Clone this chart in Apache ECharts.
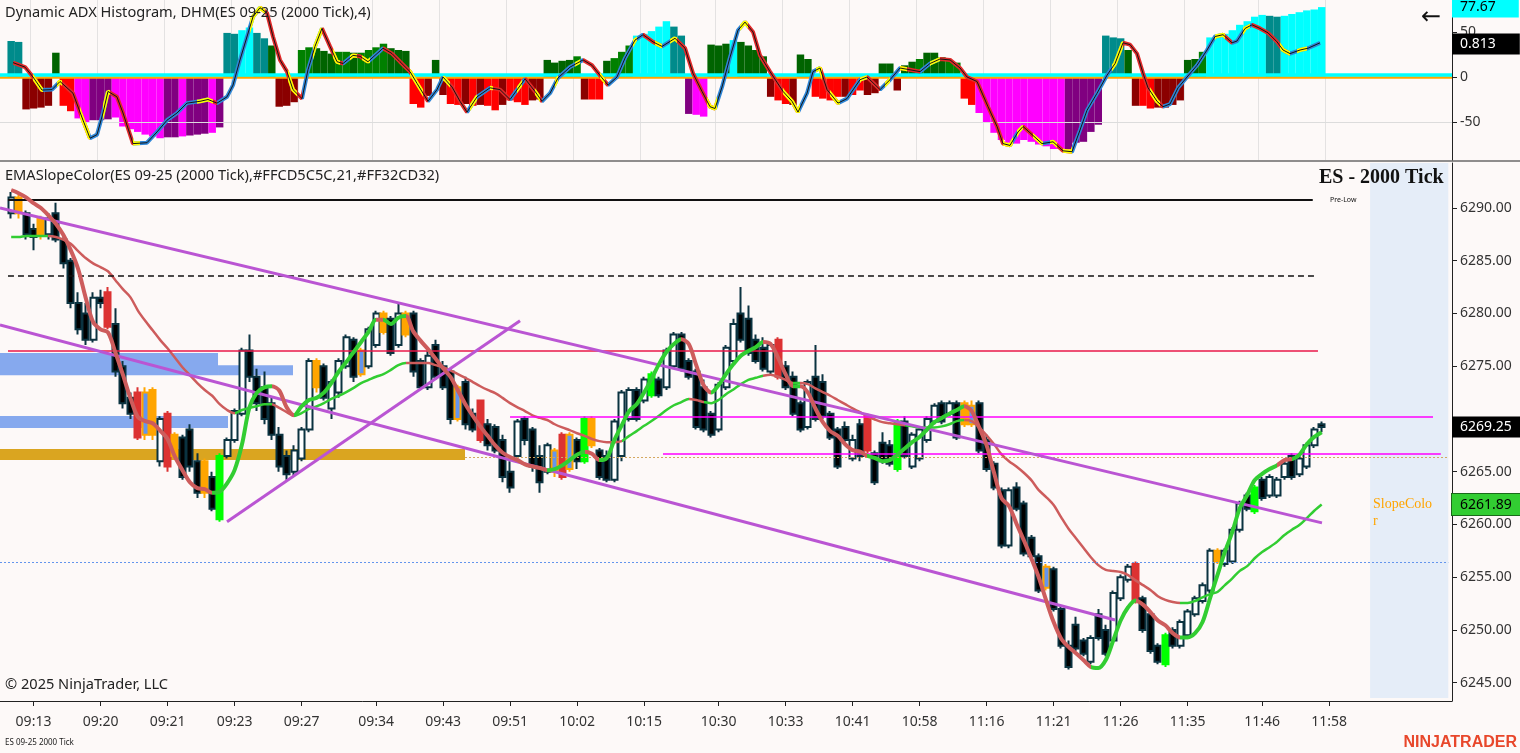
<!DOCTYPE html>
<html><head><meta charset="utf-8">
<script src="https://cdn.jsdelivr.net/npm/echarts/dist/echarts.min.js"></script>
<style>html,body{margin:0;padding:0;background:#fdf9f8;}#c{width:1520px;height:753px;}</style>
</head><body><div id="c"></div>
<script>
// ---------- data ----------
const timeLabels = ['09:13','09:20','09:21','09:23','09:27','09:34','09:43','09:51','10:02','10:15','10:30','10:33','10:41','10:58','11:16','11:21','11:26','11:35','11:46','11:58'];
const tickBars = [3,12,21,30,39,49,58,67,76,85,95,104,113,122,131,140,149,158,168,177];
const hiddenPriceLabels = [6270]; // covered by the last-price tag

const candleOpen = [6289.5,6291,6289.5,6288,6287.5,6287.5,6289.5,6287,6285,6281,6280,6277.5,6281.5,6282,6279,6275,6272,6272.5,6272.5,6268.5,6266,6270.5,6266.5,6268.25,6269,6266,6263,6264.5,6260.5,6266.5,6268,6270.5,6276.5,6274,6273,6271.5,6268.5,6266.5,6265,6266.25,6269,6275.5,6275,6271,6272.5,6275,6277.5,6274.25,6275,6277,6280,6279.5,6277,6280,6280,6275.5,6273,6277,6275,6274.5,6270,6273.5,6270.5,6271.75,6269.5,6269.25,6268,6265,6266.5,6270,6269,6266.5,6265,6267,6268.5,6265.25,6268,6266,6270,6267,6266.5,6264.25,6266.5,6270,6272.75,6271.75,6272.25,6273.75,6273,6275,6278,6275.5,6274.5,6273,6270.5,6269,6273,6275.5,6280,6279.5,6277.5,6276.75,6274.5,6277.5,6275,6274,6271.5,6269.25,6274,6273.5,6270.5,6269,6269.25,6266.25,6269.5,6270.25,6266.75,6267.75,6267.5,6265.25,6269.75,6265.5,6266.25,6268,6269.75,6271.5,6270.5,6271.5,6269.5,6271.25,6271.5,6268,6265.75,6263.25,6258,6263.5,6262,6258.75,6257,6254,6255.75,6252,6248.5,6250.5,6249,6247,6251.5,6250,6249,6253,6254.75,6256.25,6253,6251.5,6248.5,6246.75,6250,6248.5,6249.5,6251.5,6252.75,6253.75,6257.5,6256.25,6256.5,6259.5,6262.75,6261.25,6264.25,6262.75,6262.75,6264.5,6266.5,6264.75,6265.5,6267.5,6269.5];
const candleClose = [6291,6289.5,6287.5,6287.25,6289,6289,6287,6284.75,6281,6278.5,6277.5,6281.5,6281,6278.75,6274.5,6271.5,6270.5,6268.25,6268.5,6272.75,6270,6265.5,6268.5,6264.5,6265.5,6263,6266,6261.5,6266.5,6268,6270.75,6276.5,6274,6271.5,6270,6268.5,6265.5,6264.75,6267,6269,6275.5,6273,6272,6273.5,6275.5,6277.75,6274,6276.5,6278.5,6280,6278.25,6276.25,6280,6278,6274.5,6273,6276,6274,6273,6270,6273,6269.5,6269,6268,6267.5,6267,6264.5,6263.5,6269.75,6268,6265.5,6264,6267.5,6265,6264.5,6268.5,6266,6270,6267.5,6264.5,6264.25,6269.75,6272.5,6272.75,6270,6273.75,6274.25,6272.25,6276.5,6278,6274.75,6274,6269.25,6269,6268.5,6273.25,6276.75,6279,6277.5,6276.25,6275.5,6274.75,6277,6274,6273,6270.5,6269,6273.5,6270,6270.25,6268.25,6265.5,6268,6268,6266.5,6267,6264,6266,6265.75,6269.75,6266.5,6268.5,6269,6270,6271.25,6269.75,6271.5,6268.25,6271.5,6269.5,6267,6265.25,6263.5,6258,6263.25,6261.5,6257.25,6257,6253.75,6256,6252,6248.5,6246.5,6248.25,6247.75,6249.25,6249.25,6247.75,6253.5,6255,6256,6252.75,6250,6248,6247,6249.5,6248.5,6250.75,6251.75,6253,6254.25,6257.5,6256.5,6257.5,6259.5,6262,6261.5,6263.5,6262.5,6264.5,6264.25,6265.75,6264.5,6266.25,6267.5,6269,6269.25];
const candleLow = [6289,6289,6287,6286,6287,6287,6286.75,6284.25,6280.5,6278,6277,6277.25,6280.5,6278.5,6274,6271,6270,6268,6268,6268,6265.5,6265,6266.25,6264.25,6265,6262.5,6262.5,6261.25,6260.25,6266.25,6267.75,6270.25,6273.5,6270.75,6269.5,6268,6265,6264.25,6264.5,6266,6268.75,6272.5,6271.75,6270,6272,6274.75,6273.5,6274,6274.75,6276.75,6278,6276,6276.75,6277.75,6274,6272.75,6272.75,6273.75,6272.75,6269.5,6269.75,6269,6268.75,6267.75,6267,6266.75,6264,6263,6266.25,6267.5,6265,6263,6264.75,6264.5,6264.25,6265,6265.25,6265.75,6267.25,6264.25,6264,6264,6266,6269.75,6269.75,6271.5,6272,6272,6272.75,6274.75,6274.5,6273.75,6269,6268.75,6268.25,6268.75,6272.75,6275.25,6277.25,6276,6275.25,6274.5,6274.25,6273.75,6272.75,6270.25,6268.75,6269,6269.75,6270,6268,6265.25,6267.75,6266,6266,6266.75,6263.75,6265.75,6265.5,6265,6266.25,6265.25,6266,6267.75,6269.5,6269.5,6270.25,6268,6269.25,6269.25,6266.75,6265,6263.25,6257.75,6257.75,6261.25,6257,6256.75,6253.5,6253.75,6251.75,6248.25,6246.25,6248,6247.5,6246.75,6249,6247.5,6248.75,6252.75,6254.5,6252.5,6249.75,6247.75,6246.75,6246.5,6248.25,6248.25,6249.25,6251.25,6252.5,6253.5,6256.25,6256,6256.25,6259.25,6261.25,6261,6262.25,6262.5,6262.5,6264.25,6264.25,6264.5,6265.25,6267.25,6268.75];
const candleHigh = [6291.5,6291.25,6289.75,6288.5,6289.25,6289.5,6290.5,6287.5,6285.25,6282,6281,6282,6282.25,6282.5,6280.5,6275.5,6272.5,6273,6273,6273,6270.25,6270.75,6268.75,6268.5,6269.5,6266.75,6266.25,6265,6266.75,6268.25,6271,6276.75,6278,6274.75,6274.5,6272,6269.25,6267,6267.5,6269.25,6275.75,6275.75,6275.25,6273.75,6275.75,6278,6277.75,6276.75,6278.75,6280.25,6280.25,6279.75,6281,6280.25,6280.25,6275.75,6276.5,6277.5,6275.5,6274.75,6273.25,6274,6271,6271.75,6270,6269.5,6268.5,6266,6270,6270.25,6269.25,6267.5,6267.75,6267.25,6268.75,6268.75,6268.25,6270.25,6270.25,6267.25,6267,6270,6272.75,6273,6273,6274,6274.5,6274,6276.75,6278.25,6278.25,6275.75,6274.75,6273.75,6270.75,6273.5,6277,6279.5,6282.5,6280.75,6278,6277.75,6277.25,6277.75,6275.5,6274.5,6271.75,6273.75,6277,6274.25,6270.75,6269.25,6269.75,6268.5,6270,6270.5,6267,6268.75,6268,6270,6270.25,6268.75,6269.25,6270.25,6271.5,6271.75,6271.75,6271.75,6271.75,6271.75,6271.75,6268.5,6266,6263.5,6263.5,6264,6262.25,6259,6257.25,6256.25,6256,6252.25,6249,6251.25,6249.25,6249.5,6252,6250.5,6253.75,6255.25,6256.25,6256.5,6253.25,6251.75,6248.75,6249.75,6250.25,6251,6252,6253.25,6254.5,6257.75,6257.75,6257.75,6259.75,6262.25,6263,6263.75,6264.5,6264.75,6264.5,6266,6266.75,6266.5,6267.75,6269.25,6269.75];
// coloured candles: [bar, code]  O orange, R red, G green, B blue body in orange
const candleMarks = [[1,'O'],[4,'O'],[13,'R'],[17,'R'],[18,'B'],[19,'O'],[21,'R'],[22,'O'],[26,'O'],[28,'G'],[41,'O'],[47,'B'],[50,'O'],[53,'O'],[60,'B'],[63,'R'],[73,'B'],[74,'R'],[75,'B'],[77,'G'],[78,'O'],[86,'G'],[103,'R'],[115,'R'],[119,'G'],[128,'O'],[129,'B'],[139,'B'],[151,'R'],[155,'G'],[162,'O'],[167,'G']];

const emaFast = [6291.7,6291.4,6291.0,6290.45,6290.0,6289.3,6288.5,6287.45,6286.0,6284.2,
6281.5,6279.2,6278.5,6278.2,6276.3,6274.2,6272.0,6270.2,6269.8,6269.6,
6268.9,6268.1,6266.4,6265.15,6264.0,6263.45,6263.35,6263.0,6263.1,6263.9,
6265.15,6267.6,6271.1,6272.5,6273.0,6273.1,6272.7,6271.1,6270.35,6271.2,
6271.8,6272.0,6272.5,6273.4,6274.5,6275.4,6276.35,6277.3,6278.25,6279.4,
6279.4,6279.0,6279.6,6279.75,6278.3,6277.4,6276.6,6275.7,6274.8,6274.0,
6272.7,6271.4,6270.3,6269.3,6268.4,6267.5,6266.8,6266.4,6266.1,6265.7,
6265.5,6265.35,6265.15,6265.25,6265.6,6266.1,6266.6,6266.9,6266.7,6266.1,
6266.3,6268.0,6269.4,6270.75,6271.4,6272.5,6273.8,6275.2,6276.35,6277.1,
6277.55,6277.1,6275.1,6273.2,6272.5,6273.2,6274.25,6275.2,6276.0,6276.45,
6276.8,6277.3,6277.1,6275.8,6274.25,6273.1,6273.1,6272.5,6271.0,6269.7,
6268.85,6268.4,6267.6,6267.05,6266.9,6266.5,6266.3,6266.0,6266.1,6266.6,
6267.2,6267.8,6268.3,6269.0,6269.7,6270.1,6270.5,6270.85,6271.2,6270.75,
6269.2,6267.5,6264.9,6262.5,6261.75,6260.1,6258.5,6256.8,6255.0,6252.8,
6250.75,6249.2,6248.4,6247.8,6247.15,6246.5,6246.4,6247.15,6249.0,6250.9,
6252.15,6252.8,6252.4,6251.7,6250.9,6250.45,6249.7,6249.3,6249.3,6249.7,
6250.75,6253.0,6255.2,6257.4,6259.3,6261.55,6262.8,6264.2,6264.8,6265.25,
6265.6,6266.1,6266.2,6266.6,6267.6,6268.3,6268.75];
const emaSlow = [6287.25,6287.25,6287.35,6287.35,6287.35,6287.35,6287.25,6287.0,6286.6,6285.9,
6285.25,6284.75,6284.4,6284.0,6283.15,6282.3,6281.55,6280.3,6279.3,6278.4,
6277.5,6276.7,6275.8,6274.9,6274.15,6273.4,6272.75,6272.2,6271.4,6270.85,
6270.55,6270.85,6271.05,6271.2,6271.4,6271.4,6271.05,6270.65,6270.3,6270.55,
6270.95,6271.2,6271.5,6271.9,6272.2,6272.55,6272.95,6273.4,6273.7,6274.0,
6274.25,6274.65,6275.1,6275.3,6275.3,6275.3,6275.3,6275.1,6274.9,6274.6,
6274.25,6273.9,6273.5,6273.1,6272.75,6272.45,6272.0,6271.5,6271.1,6270.75,
6270.35,6270.1,6269.9,6269.5,6269.2,6268.95,6268.65,6268.4,6268.1,6267.9,
6267.8,6267.8,6267.9,6268.4,6268.85,6269.35,6269.8,6270.3,6270.85,6271.3,
6271.6,6271.9,6271.8,6271.6,6271.5,6271.8,6272.35,6272.8,6273.3,6273.7,
6273.9,6274.1,6274.2,6274.0,6273.7,6273.4,6273.4,6273.3,6272.9,6272.55,
6272.2,6271.8,6271.4,6271.0,6270.65,6270.25,6269.95,6269.7,6269.6,6269.5,
6269.4,6269.3,6269.2,6269.2,6269.2,6269.3,6269.5,6269.8,6269.9,6269.8,
6269.2,6268.45,6267.6,6266.65,6266.0,6265.5,6264.9,6264.2,6263.25,6262.6,
6261.85,6260.7,6259.6,6258.7,6257.8,6256.9,6256.15,6255.7,6255.6,6255.5,
6255.2,6254.7,6254.25,6253.8,6253.2,6252.85,6252.65,6252.55,6252.55,6252.75,
6253.1,6253.4,6253.6,6254.25,6254.9,6255.6,6256.05,6256.8,6257.4,6257.85,
6258.35,6259.0,6259.5,6259.95,6260.6,6261.3,6261.89];
// slope colour runs [fromBar, toBar, 'R'|'G']
const fastSlopeRuns = [[0,27,'R'],[27,35,'G'],[35,38,'R'],[38,49,'G'],[49,50,'R'],[50,53,'G'],[53,72,'R'],[72,77,'G'],[77,79,'R'],[79,90,'G'],[90,94,'R'],[94,101,'G'],[101,105,'R'],[105,106,'G'],[106,115,'R'],[115,128,'G'],[128,145,'R'],[145,151,'G'],[151,157,'R'],[157,170,'G'],[170,172,'R'],[172,176,'G']];
const slowSlopeRuns = [[0,5,'G'],[5,30,'R'],[30,35,'G'],[35,38,'R'],[38,53,'G'],[53,82,'R'],[82,91,'G'],[91,93,'R'],[93,101,'G'],[101,105,'R'],[105,106,'G'],[106,120,'R'],[120,128,'G'],[128,157,'R'],[157,176,'G']];

const adxValues = [40,39,-36,-35,-34,-32,27,-32,-38,-46,-51,-48,-48,-47,-45,-55,-58,-61,-64,-66,-68,-67,-67,-66,-65,-64,-63,-62,-56,49,48,52,55,49,43,35,-33,-32,-28,30,33,32,29,26,28,28,27,27,30,33,37,32,30,29,-30,-34,-21,19,-20,-30,-31,-30,-32,-31,-32,-37,-31,-26,-28,-31,-26,-25,19,16,18,19,23,-25,-25,-25,18,21,28,35,46,48,51,56,62,56,46,-41,-42,-44,36,35,37,41,39,35,30,23,-22,-26,-30,-31,25,20,-22,-24,-26,-22,-22,-20,-15,-20,-18,15,15,-15,13,17,20,27,27,22,18,16,-24,-31,-40,-51,-62,-70,-73,-74,-70,-72,-75,-77,-80,-80,-80,-73,-72,-61,-53,46,44,43,30,-32,-32,-35,-34,-34,-31,-26,19,20,28,44,46,48,52,58,62,67,69,68,67,68,70,72,74,75,77.67];
const adxColors = ['T','T','DR','DR','DR','DR','DG','R','R','M','M','P','P','P','M','M','M','M','M','M','M','P','P','M','P','P','P','M','P','T','T','C','C','T','T','DG','DR','DR','DR','G','G','DG','DG','DG','G','G','DG','G','G','G','G','DG','DG','DG','R','R','DR','DG','DR','R','R','DR','R','DR','R','R','DR','R','R','R','DR','DR','DG','DG','DG','DG','G','DR','R','R','DG','G','G','G','C','C','C','C','C','T','T','P','M','M','DG','DG','DG','C','DG','DG','DG','DG','DR','R','R','DR','DG','DG','R','R','R','R','DR','R','R','DR','DR','DG','DG','DR','DG','DG','G','DG','DG','DG','G','G','R','R','M','M','M','M','M','M','M','M','M','M','M','M','P','P','P','P','P','T','T','T','DG','DR','R','R','DR','DR','DR','DR','DG','DG','G','C','C','C','C','C','C','C','C','T','T','C','C','C','C','C','C'];
// ADX signal line: [bar position, value]
const adxLine = [[0.25,16],[1.86,11],[2.93,0],[4.14,-14.5],[5.48,-14],[6.56,-5],[8.3,-18],[9.65,-48],[10.59,-68],[11.53,-64],
[12.33,-40],[13,-16],[14.2,-22],[15.02,-40],[16.36,-74],[18.24,-73],[19.59,-61],[20.93,-48],[22.27,-40],[23.61,-29],
[25.36,-27],[26.43,-25],[27.64,-29],[28.99,-22],[29.79,-9],[30.73,19],[32.48,67],[33.42,77],[34.36,71],[35.16,45],
[36.1,19],[37.04,6],[37.85,-14],[39.06,-24],[39.86,8],[40.8,34],[41.74,54],[42.82,34],[43.76,17],[44.57,15],
[45.91,24],[46.85,23],[47.92,17],[48.86,24],[49.94,32],[51.15,26],[52.22,17],[53.56,6],[54.5,-7],[55.98,-27],
[57.19,-14],[57.99,0],[59.2,-11],[60.28,-27],[61.22,-39],[62.56,-22],[64.31,-12],[65.65,-14],[67,-25],[69.01,-2],
[70.35,-16],[71.29,-27],[72.37,-18],[73.44,-1],[75.05,11],[76.8,19],[78.01,13],[79.35,-1],[80.16,-9],[81.36,0],
[82.44,21],[83.78,41],[84.86,47],[86.2,39],[87.41,34],[89.15,43],[90.5,32],[91.57,4],[92.78,-16],[93.85,-33],
[94.53,-35],[95.47,-11],[96.54,22],[97.61,52],[98.55,61],[99.63,50],[100.57,24],[101.91,6],[103.66,-16],[104.87,-27],
[105.67,-39],[106.88,-18],[107.69,6],[108.63,10],[109.57,-14],[111.04,-29],[112.25,-24],[114,-3],[114.94,0],[116.69,-14],
[118.03,-3],[119.37,10],[120.72,8],[122.06,6],[123.4,15],[124.74,20],[126.09,19],[127.43,10],[128.37,0],[129.71,-5],
[131.19,-33],[132.4,-55],[133.2,-74],[134.14,-76],[135.22,-61],[135.89,-55],[137.1,-64],[138.44,-74],[139.92,-72],[141.26,-82],
[142.47,-83],[143.54,-59],[144.48,-37],[145.83,-18],[147.17,2],[148.25,15],[149.32,38],[150.26,36],[151.2,26],[152.01,4],
[152.68,-12],[153.89,-27],[154.69,-33],[155.63,-30],[156.71,-12],[157.92,0],[159.26,13],[160.6,30],[161.68,45],[162.75,47],
[163.96,38],[164.63,40],[165.71,54],[166.65,58],[167.72,54],[168.8,49],[170.01,39],[170.81,30],[171.75,26],[173.09,30],
[174.17,32],[175.78,38]];
const adxYellowRuns = [[2.93,4.27],[6.15,6.83],[9.24,10.59],[12.33,13.27],[16.36,17.3],[24.96,27.1],[32.08,34.09],[37.18,38.39],[40.54,41.74],[43.22,44.16],[45.51,46.45],[47.12,48.19],[53.56,55.31],[58,58.94],[61.62,62.56],[64.31,64.71],[67.93,68.61],[70.35,71.02],[73.04,73.44],[75.72,76.39],[79.08,79.75],[83.51,84.05],[86.47,87.41],[88.48,89.42],[93.45,94.79],[97.88,98.96],[103.66,105.94],[108.09,108.9],[109.97,111.31],[114,114.94],[117.36,118.03],[119.37,120.31],[123.4,124.74],[133.2,134.55],[135.08,135.89],[137.23,138.58],[139.52,140.46],[141.26,142.47],[147.84,149.32],[152.95,154.29],[161.68,163.02],[165.44,166.38],[170.4,171.75],[172.69,174.03]];
const adxTagValue = 77.67, adxLineTag = '0.813', adxLineTagAt = 36.7;
const lastClose = 6269.25;

// drawing tools on the price panel (bar position, price)
const trendLines = [[[-1.5,6290.0],[176.04,6260.15]],[[-1.5,6278.9],[148.25,6250.95]],[[28.99,6260.25],[68.34,6279.3]]];
const levelLines = [ // [from, to, price, kind]
  [-0.43,174.8,6290.75,'preLow'],[-0.43,175.5,6283.55,'dash'],[-0.43,175.5,6276.5,'crimson'],
  [67,190.95,6270.2,'magenta'],[87.54,192.0,6266.7,'magenta'],[60.95,193,6266.4,'tan'],[-1.5,193,6256.44,'blue']];
const zones = [ // [from, to, low, high, kind]
  [-1.5,27.78,6274.15,6276.25,'blue'],[27.78,37.85,6274.15,6275.1,'blue'],[-1.5,29.12,6269.15,6270.28,'blue'],
  [-1.5,60.95,6266.1,6267.15,'gold'],[182.5,193,6243.55,6294.26,'future']];

// ---------- chart ----------
const LEAD = 1, NCAT = 195;
const cats = Array.from({length:NCAT},(_, j)=>String(j));
const tickSet = new Set(tickBars.map(b=>b+LEAD));
const labelByCat = {}; tickBars.forEach((b,k)=>labelByCat[b+LEAD]=timeLabels[k]);
const isTick = (idx)=>tickSet.has(idx);

const markStyle = {O:['#FFA500','#FFA500'],R:['#DC3232','#DC3232'],G:['#00FF00','#00FF00'],B:['#6495ED','#FFA500']};
const markMap = {}; candleMarks.forEach(m=>markMap[m[0]]=m[1]);
const candleData = candleOpen.map((o,i)=>{
  const it = {value:[i+LEAD,o,candleClose[i],candleLow[i],candleHigh[i]]};
  const m = markMap[i];
  if(m){const s=markStyle[m]; it.itemStyle={color:s[0],color0:s[0],borderColor:s[1],borderColor0:s[1]};}
  return it;
});
const adxColorMap = {T:'#008B8B',C:'#00FFFF',DG:'#006400',G:'#008000',R:'#FF0000',DR:'#8B0000',M:'#FF00FF',P:'#800080'};
const adxData = adxValues.map((v,i)=>({value:[i+LEAD,v],itemStyle:{color:adxColorMap[adxColors[i]]}}));
const adxLineData = adxLine.map(p=>[p[0]+LEAD,p[1]]);

const RED='#CD5C5C', GRN='#32CD32';
const runsToPieces = (runs)=>runs.map((r,k)=>{
  const p={gte:r[0]+LEAD,color:r[2]==='R'?RED:GRN};
  if(k===runs.length-1) p.lte=r[1]+LEAD+1; else p.lt=r[1]+LEAD; return p;});
const dirPieces = [];
for(let k=0;k<adxLine.length-1;k++){
  const p={gte:adxLine[k][0]+LEAD,color:adxLine[k+1][1]>=adxLine[k][1]?'#2F86D6':'#E02A2A'};
  if(k===adxLine.length-2) p.lte=adxLine[k+1][0]+LEAD+1; else p.lt=adxLine[k+1][0]+LEAD;
  dirPieces.push(p);
}
const yellowPieces = adxYellowRuns.map(r=>({gte:r[0]+LEAD,lt:r[1]+LEAD,color:'#FFFF00'}));

const lineKinds = {
  preLow:{color:'#111',width:2,type:'solid'}, dash:{color:'#111',width:1.5,type:[6,4]},
  crimson:{color:'#E8174A',width:1.5,type:'solid'}, magenta:{color:'#FF00FF',width:1.5,type:'solid'},
  tan:{color:'#D4A860',width:1,type:[2,2]}, blue:{color:'#6495ED',width:1,type:[2,2]}};
const zoneKinds = {blue:'#86A9EE',gold:'#DAA520',future:'#E5EDF8'};

const levelMark = levelLines.map(l=>[{coord:[l[0]+LEAD,l[2]],lineStyle:lineKinds[l[3]]},{coord:[l[1]+LEAD,l[2]]}]);
const trendMark = trendLines.map(t=>[{coord:[t[0][0]+LEAD,t[0][1]],lineStyle:{color:'#BA55D3',width:3,type:'solid'}},{coord:[t[1][0]+LEAD,t[1][1]]}]);
const zoneMark = zones.map(z=>[{coord:[z[0]+LEAD,z[2]],itemStyle:{color:zoneKinds[z[4]]}},{coord:[z[1]+LEAD,z[3]]}]);

const FONT='"Noto Sans", "Open Sans", sans-serif';
const chart = echarts.init(document.getElementById('c'),null,{renderer:'canvas'});
const HIDDEN = {color:'rgba(0,0,0,0)',width:1};
const tag = (bg,fg,txt,padR)=>({show:true,position:'end',distance:0,formatter:txt,backgroundColor:bg,color:fg,padding:[4,padR,3,8],fontSize:14,fontFamily:FONT});
const priceLabel = (v)=>hiddenPriceLabels.some(h=>Math.abs(h-v)<0.01)?'':v.toFixed(2);

chart.setOption({
  backgroundColor:'#fdf9f8',
  animation:false,
  grid:[{left:0,top:0,width:1452,height:160,outerBoundsMode:'none'},{left:0,top:163,width:1452,height:538,outerBoundsMode:'none'}],
  xAxis:[
    {type:'category',gridIndex:0,data:cats,axisLine:{show:false},axisTick:{show:false},axisLabel:{show:false},
      splitLine:{show:true,interval:isTick,lineStyle:{color:'#e4e2e2',width:1}}},
    {type:'category',gridIndex:1,data:cats,axisLine:{show:true,onZero:false,lineStyle:{color:'#222',width:1}},
      axisTick:{show:true,interval:isTick,alignWithLabel:true,length:5,lineStyle:{color:'#222'}},
      axisLabel:{show:true,interval:isTick,formatter:(v)=>labelByCat[+v]||'',margin:14,fontSize:14,color:'#333',fontFamily:FONT},
      splitLine:{show:false}},
    {type:'value',gridIndex:0,min:-0.5,max:NCAT-0.5,show:false},
    {type:'value',gridIndex:1,min:-0.5,max:NCAT-0.5,show:false}
  ],
  yAxis:[
    {type:'value',gridIndex:0,position:'right',min:-92.2,max:85.56,splitNumber:4,
      axisLine:{show:true,onZero:false,lineStyle:{color:'#222'}},axisTick:{show:true,length:5,lineStyle:{color:'#222'}},
      axisLabel:{showMinLabel:false,showMaxLabel:false,margin:8,fontSize:14,color:'#333',fontFamily:FONT,formatter:(v)=>String(Math.round(v))},
      splitLine:{show:false}},
    {type:'value',gridIndex:1,position:'right',min:6243.27,max:6294.26,splitNumber:10,
      axisLine:{show:true,onZero:false,lineStyle:{color:'#222'}},axisTick:{show:true,length:5,lineStyle:{color:'#222'}},
      axisLabel:{showMinLabel:false,showMaxLabel:false,margin:8,fontSize:14,color:'#333',fontFamily:FONT,formatter:priceLabel},
      splitLine:{show:false}}
  ],
  visualMap:[
    {type:'piecewise',show:false,seriesIndex:2,dimension:0,pieces:dirPieces},
    {type:'piecewise',show:false,seriesIndex:3,dimension:0,pieces:yellowPieces,outOfRange:{color:'rgba(0,0,0,0)'}},
    {type:'piecewise',show:false,seriesIndex:7,dimension:0,pieces:runsToPieces(slowSlopeRuns)},
    {type:'piecewise',show:false,seriesIndex:8,dimension:0,pieces:runsToPieces(fastSlopeRuns)}
  ],
  series:[
    {type:'line',xAxisIndex:2,yAxisIndex:0,data:[],silent:true,z:0,
      markLine:{silent:true,symbol:['none','none'],label:{show:false},lineStyle:{color:'#dcdcdc',width:1,type:'solid'},data:[{yAxis:-50}]}},
    {type:'bar',xAxisIndex:0,yAxisIndex:0,data:adxData,barCategoryGap:'0%',barGap:'0%',z:2,
      markLine:{silent:true,symbol:['none','none'],z:5,data:[
        {yAxis:-0.2,lineStyle:{color:'#FFA500',width:2.5,type:'solid'},label:{show:false}},
        {yAxis:2.6,lineStyle:{color:'#00FFFF',width:3.5,type:'solid'},label:{show:false}}
      ]}},
    {type:'line',xAxisIndex:2,yAxisIndex:0,data:adxLineData,showSymbol:false,z:6,lineStyle:{width:4}},
    {type:'line',xAxisIndex:2,yAxisIndex:0,data:adxLineData,showSymbol:false,z:7,lineStyle:{width:4}},
    {type:'line',xAxisIndex:2,yAxisIndex:0,data:adxLineData,showSymbol:false,z:8,lineStyle:{width:1,color:'#141414'},itemStyle:{color:'#141414'},
      markLine:{silent:true,symbol:['none','none'],z:20,data:[
        {yAxis:adxTagValue,lineStyle:HIDDEN,label:tag('#00FFFF','#000',String(adxTagValue),23)},
        {yAxis:adxLineTagAt,lineStyle:HIDDEN,label:tag('#000','#fff',adxLineTag,24)}
      ]}},
    {type:'line',xAxisIndex:3,yAxisIndex:1,data:[],silent:true,z:1,markArea:{silent:true,data:zoneMark}},
    {type:'candlestick',xAxisIndex:1,yAxisIndex:1,data:candleData,encode:{x:0,y:[1,2,3,4]},barWidth:6.5,z:3,
      itemStyle:{color:'#ffffff',color0:'#000000',borderColor:'#0B3340',borderColor0:'#0B3340',borderWidth:2},
      markLine:{silent:true,symbol:['none','none'],z:20,data:[{yAxis:lastClose,lineStyle:HIDDEN,label:tag('#000','#fff',lastClose.toFixed(2),9)}]}},
    {type:'line',xAxisIndex:1,yAxisIndex:1,data:emaSlow.map((v,i)=>[i+LEAD,v]),showSymbol:false,smooth:0.3,z:4,lineStyle:{width:2.5},
      markLine:{silent:true,symbol:['none','none'],z:20,data:[{yAxis:emaSlow[emaSlow.length-1],lineStyle:HIDDEN,
        label:Object.assign(tag('#32CD32','#000',emaSlow[emaSlow.length-1].toFixed(2),9),{borderColor:'#1a6a1a',borderWidth:1})}]}},
    {type:'line',xAxisIndex:1,yAxisIndex:1,data:emaFast.map((v,i)=>[i+LEAD,v]),showSymbol:false,smooth:0.3,z:5,lineStyle:{width:4}},
    {type:'line',xAxisIndex:3,yAxisIndex:1,data:[],silent:true,z:6,
      markLine:{silent:true,symbol:['none','none'],label:{show:false},data:levelMark.concat(trendMark)}}
  ],
  graphic:[
    {type:'line',shape:{x1:0,y1:161,x2:1520,y2:161},style:{stroke:'#222',lineWidth:1.2},z:100},
    {type:'text',left:5,top:5,style:{text:'Dynamic ADX Histogram, DHM(ES 09-25 (2000 Tick),4)',font:'14.6px '+FONT,fill:'#222'},z:100},
    {type:'text',left:5,top:168,style:{text:'EMASlopeColor(ES 09-25 (2000 Tick),#FFCD5C5C,21,#FF32CD32)',font:'14.6px '+FONT,fill:'#222'},z:100},
    {type:'text',left:1319,top:168,style:{text:'ES - 2000 Tick',font:'bold 20px "Liberation Serif", "DejaVu Serif", serif',fill:'#111'},z:100},
    {type:'text',left:1330,top:196,style:{text:'Pre-Low',font:'7px '+FONT,fill:'#111'},z:100},
    {type:'text',left:1373,top:496,style:{text:'SlopeColo\nr',font:'14px "Liberation Serif", serif',fill:'#FFA500',lineHeight:17},z:100},
    {type:'text',left:1421,top:6,style:{text:'←',font:'24px "DejaVu Sans", sans-serif',fill:'#111'},z:100},
    {type:'text',left:5,top:677,style:{text:'© 2025 NinjaTrader, LLC',font:'14.6px '+FONT,fill:'#222'},z:100},
    {type:'text',left:5,top:739,style:{text:'ES 09-25 2000 Tick',font:'8px '+FONT,fill:'#222'},z:100},
    {type:'text',right:3,top:735,style:{text:'NINJATRADER',font:'bold 16px "Liberation Sans", Arial, sans-serif',fill:'#E8472B'},z:100}
  ]
});
</script></body></html>
